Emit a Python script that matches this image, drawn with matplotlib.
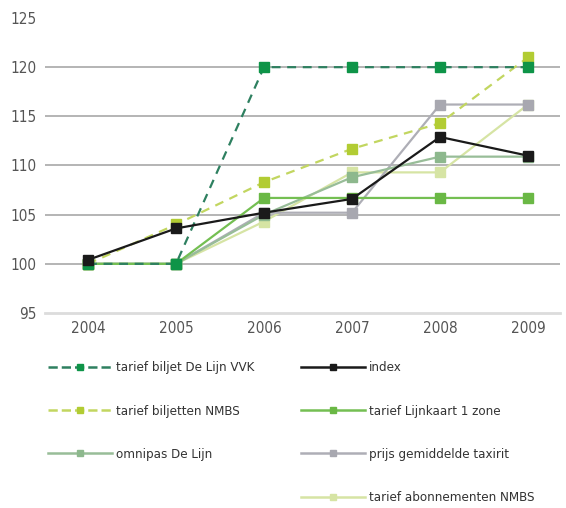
import matplotlib
matplotlib.use("Agg")
import matplotlib.pyplot as plt
from matplotlib.lines import Line2D

plt.rcParams['font.family'] = ['DejaVu Sans']
plt.rcParams['font.stretch'] = 'condensed'

years = [2004, 2005, 2006, 2007, 2008, 2009]
year_labels = ['2004', '2005', '2006', '2007', '2008', '2009']

vvk = [100, 100, 120, 120, 120, 120]
biljetten_nmbs = [100, 104, 108.3, 111.7, 114.3, 121]
index_vals = [100.4, 103.6, 105.2, 106.6, 112.9, 111]
lijnkaart = [100, 100, 106.7, 106.7, 106.7, 106.7]
omnipas = [100, 100, 105, 108.8, 110.9, 110.9]
taxirit = [100, 100, 105.2, 105.2, 116.2, 116.2]
abonnementen = [100, 100, 104.3, 109.3, 109.3, 116.2]

y_ticks = [95, 100, 105, 110, 115, 120, 125]

fig = plt.figure(figsize=(5.66, 5.08), dpi=100)
ax = fig.add_axes([45/566, 1-313/508, (560-45)/566, (313-18)/508])

ax.set_xlim(2004 - 43/88, 2009 + 32/88)
ax.set_ylim(95, 125)

for y in [100, 105, 110, 115, 120]:
    ax.axhline(y, color='#a8a8a8', lw=1.2, zorder=0)

ms = 6.5
series = [
    (abonnementen, '#d6e4a4', '#d6e4a4', '-', 'tarief abonnementen NMBS'),
    (taxirit, '#aeaeb6', '#a8a8b0', '-', 'prijs gemiddelde taxirit'),
    (omnipas, '#98bd98', '#8db88d', '-', 'omnipas De Lijn'),
    (lijnkaart, '#74bf52', '#6ab845', '-', 'tarief Lijnkaart 1 zone'),
    (biljetten_nmbs, '#c2d660', '#b2cc33', (0, (4, 3)), 'tarief biljetten NMBS'),
    (vvk, '#2e8060', '#0e9448', (0, (4, 3)), 'tarief biljet De Lijn VVK'),
    (index_vals, '#1a1a1a', '#1a1a1a', '-', 'index'),
]
handles = {}
for vals, lc, mc, ls, lab in series:
    ln, = ax.plot(years, vals, color=lc, ls=ls, lw=1.6, marker='s', ms=ms,
                  mfc=mc, mec=mc, label=lab)
    handles[lab] = ln

ax.set_xticks(years)
ax.set_xticklabels(year_labels)
ax.set_yticks(y_ticks)
ax.tick_params(length=0, labelsize=11, colors='#555555')
ax.tick_params(axis='x', pad=6)
ax.tick_params(axis='y', pad=6)
for s in ['top', 'right', 'left']:
    ax.spines[s].set_visible(False)
ax.spines['bottom'].set_color('#dcdcdc')
ax.spines['bottom'].set_linewidth(2)

col1 = ['tarief biljet De Lijn VVK', 'tarief biljetten NMBS', 'omnipas De Lijn']
col2 = ['index', 'tarief Lijnkaart 1 zone', 'prijs gemiddelde taxirit', 'tarief abonnementen NMBS']

def mk(lab):
    h = handles[lab]
    return Line2D([], [], color=h.get_color(), ls=h.get_linestyle(), lw=1.8,
                  marker='s', ms=5, mfc=h.get_markerfacecolor(), mec=h.get_markeredgecolor())

leg_kw = dict(frameon=False, fontsize=9.5, handlelength=4.8, handletextpad=0.35,
              labelspacing=2.3, numpoints=1, labelcolor='#333333', borderaxespad=0)
l1 = fig.legend([mk(l) for l in col1], col1, loc='upper left',
                bbox_to_anchor=(43/566, 1-356/508), **leg_kw)
l2 = fig.legend([mk(l) for l in col2], col2, loc='upper left',
                bbox_to_anchor=(296/566, 1-356/508), **leg_kw)

fig.savefig('out.png', dpi=100)
